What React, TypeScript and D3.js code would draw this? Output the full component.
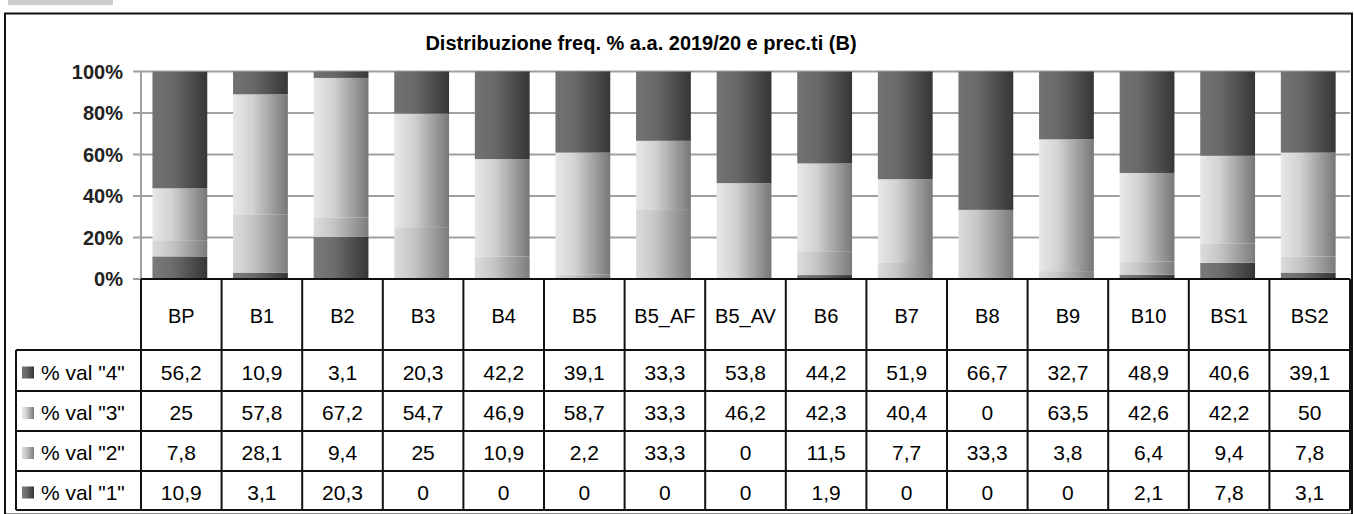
import React, { useEffect, useRef } from 'react';
import * as d3 from 'd3';

const categories = ['BP', 'B1', 'B2', 'B3', 'B4', 'B5', 'B5_AF', 'B5_AV', 'B6', 'B7', 'B8', 'B9', 'B10', 'BS1', 'BS2'];
const val4 = [56.2, 10.9, 3.1, 20.3, 42.2, 39.1, 33.3, 53.8, 44.2, 51.9, 66.7, 32.7, 48.9, 40.6, 39.1];
const val3 = [25, 57.8, 67.2, 54.7, 46.9, 58.7, 33.3, 46.2, 42.3, 40.4, 0, 63.5, 42.6, 42.2, 50];
const val2 = [7.8, 28.1, 9.4, 25, 10.9, 2.2, 33.3, 0, 11.5, 7.7, 33.3, 3.8, 6.4, 9.4, 7.8];
const val1 = [10.9, 3.1, 20.3, 0, 0, 0, 0, 0, 1.9, 0, 0, 0, 2.1, 7.8, 3.1];
const seriesNames = ['% val "4"', '% val "3"', '% val "2"', '% val "1"'];
const yTicks = [0, 20, 40, 60, 80, 100];
const title = 'Distribuzione freq. % a.a. 2019/20 e prec.ti (B)';

const fmt = (v: number) => String(v).replace('.', ',');

const App = () => {
  const ref = useRef<SVGSVGElement>(null);

  useEffect(() => {
    if (!ref.current) return;
    const svg = d3.select(ref.current);
    svg.selectAll('*').remove();

    const H = 514;
    const left = 141, right = 1350, top = 71.5, bottom = 279;
    const rowLines = [350, 391, 431, 471, 510];
    const legendLeft = 16;
    const font = 'Liberation Sans, Arial, sans-serif';

    const col = d3.scaleBand().domain(categories).range([left, right]);
    const barW = col.bandwidth() * 0.68;
    const barX = (c: string) => col(c)! + col.bandwidth() * 0.142;
    const y = d3.scaleLinear().domain([0, 100]).range([bottom, top]);

    const defs = svg.append('defs');
    const grads = [
      { id: 'g4', stops: ['#727272', '#6a6a6a', '#363636'] },
      { id: 'g3', stops: ['#e8e8e8', '#d2d2d2', '#777777'] },
      { id: 'g2', stops: ['#dcdcdc', '#c6c6c6', '#7c7c7c'] },
      { id: 'g1', stops: ['#7a7a7a', '#6e6e6e', '#363636'] },
    ];
    grads.forEach(g => {
      const lg = defs.append('linearGradient').attr('id', g.id).attr('x1', 0).attr('x2', 1).attr('y1', 0).attr('y2', 0);
      lg.append('stop').attr('offset', '0%').attr('stop-color', g.stops[0]);
      lg.append('stop').attr('offset', '35%').attr('stop-color', g.stops[1]);
      lg.append('stop').attr('offset', '100%').attr('stop-color', g.stops[2]);
    });

    // header grey bar
    svg.append('rect').attr('x', 8).attr('y', 0).attr('width', 105).attr('height', 5).attr('fill', '#cccccc');

    // outer frame
    svg.append('rect').attr('x', 5).attr('y', 13.5).attr('width', 1347).attr('height', H - 13)
      .attr('fill', 'none').attr('stroke', '#111').attr('stroke-width', 2);

    svg.append('text').attr('x', 641).attr('y', 50).attr('text-anchor', 'middle')
      .style('font-family', font).style('font-weight', 'bold').style('font-size', '20px')
      .text(title);

    // gridlines
    const grid = svg.append('g');
    grid.selectAll('line').data(yTicks.filter(t => t > 0)).enter().append('line')
      .attr('x1', left - 8).attr('x2', right).attr('y1', d => y(d)).attr('y2', d => y(d))
      .attr('stroke', '#a0a0a0').attr('stroke-width', 2);
    grid.append('line').attr('x1', left - 8).attr('x2', left).attr('y1', bottom).attr('y2', bottom)
      .attr('stroke', '#a0a0a0').attr('stroke-width', 2);
    grid.append('line').attr('x1', left).attr('x2', left).attr('y1', top - 1).attr('y2', bottom)
      .attr('stroke', '#a0a0a0').attr('stroke-width', 2);

    svg.append('g').selectAll('text').data(yTicks).enter().append('text')
      .attr('x', left - 18).attr('y', d => y(d)).attr('dy', '0.35em').attr('text-anchor', 'end')
      .style('font-family', font).style('font-weight', 'bold').style('font-size', '20px')
      .attr('fill', '#222')
      .text(d => `${d}%`);

    // stacked bars
    const table = categories.map((c, i) => ({ cat: c, v1: val1[i], v2: val2[i], v3: val3[i], v4: val4[i] }));
    const stack = d3.stack<any>().keys(['v1', 'v2', 'v3', 'v4']);
    const layers = stack(table);
    const fills = ['url(#g1)', 'url(#g2)', 'url(#g3)', 'url(#g4)'];
    svg.append('g').selectAll('g').data(layers).enter().append('g')
      .attr('fill', (_, i) => fills[i])
      .selectAll('rect').data(d => d).enter().append('rect')
      .attr('x', d => barX(d.data.cat))
      .attr('width', barW)
      .attr('y', d => y(Math.min(d[1], 100)))
      .attr('height', d => Math.max(0, y(d[0]) - y(Math.min(d[1], 100))));

    // data table
    const tg = svg.append('g').attr('stroke', '#111').attr('stroke-width', 2);
    tg.append('line').attr('x1', left).attr('x2', right).attr('y1', bottom).attr('y2', bottom);
    rowLines.forEach(r => {
      tg.append('line').attr('x1', legendLeft).attr('x2', right).attr('y1', r).attr('y2', r);
    });
    tg.append('line').attr('x1', legendLeft).attr('x2', legendLeft).attr('y1', rowLines[0]).attr('y2', rowLines[4]);
    categories.forEach(c => {
      tg.append('line').attr('x1', col(c)!).attr('x2', col(c)!).attr('y1', bottom).attr('y2', rowLines[4]);
    });
    tg.append('line').attr('x1', right).attr('x2', right).attr('y1', bottom).attr('y2', rowLines[4]);

    svg.append('g').selectAll('text').data(categories).enter().append('text')
      .attr('x', d => col(d)! + col.bandwidth() / 2).attr('y', 316).attr('dy', '0.35em')
      .attr('text-anchor', 'middle').style('font-family', font).style('font-size', '20px').text(d => d);

    const rows = [val4, val3, val2, val1];
    const legendFills = ['url(#g4)', 'url(#g3)', 'url(#g2)', 'url(#g1)'];
    rows.forEach((vals, ri) => {
      const cy = (rowLines[ri] + rowLines[ri + 1]) / 2 + 2;
      svg.append('rect').attr('x', 22).attr('y', cy - 6).attr('width', 12).attr('height', 12).attr('fill', legendFills[ri]);
      svg.append('text').attr('x', 41).attr('y', cy).attr('dy', '0.35em')
        .style('font-family', font).style('font-size', '21px').text(seriesNames[ri]);
      svg.append('g').selectAll('text').data(vals).enter().append('text')
        .attr('x', (_, i) => col(categories[i])! + col.bandwidth() / 2).attr('y', cy).attr('dy', '0.35em')
        .attr('text-anchor', 'middle').style('font-family', font).style('font-size', '21px')
        .text(d => fmt(d));
    });
  }, []);

  return <svg ref={ref} width={1354} height={514} style={{ position: 'absolute', left: 0, top: 0, background: '#fff' }} />;
};

export default App;
